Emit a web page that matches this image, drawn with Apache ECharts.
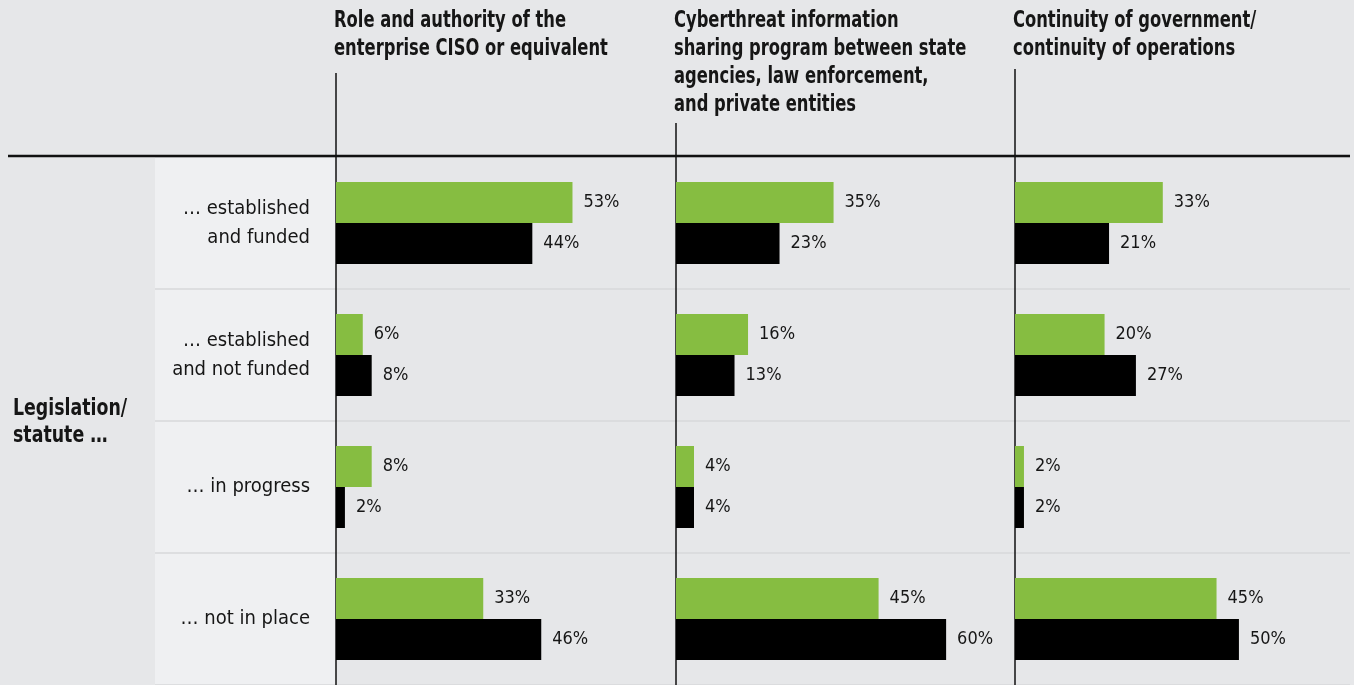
<!DOCTYPE html>
<html>
<head>
<meta charset="utf-8">
<title>Legislation / statute status</title>
<script src="https://cdn.jsdelivr.net/npm/echarts@6/dist/echarts.min.js"></script>
<style>
  html, body { margin: 0; padding: 0; background: #e6e7e9; }
  #chart { width: 1354px; height: 685px; }
</style>
</head>
<body>
<div id="chart"></div>
<script>
// Row categories (shared by all three panels)
const categories = [
  '… established\nand funded',
  '… established\nand not funded',
  '… in progress',
  '… not in place'
];

// Panel headings
const panelTitles = [
  'Role and authority of the\nenterprise CISO or equivalent',
  'Cyberthreat information\nsharing program between state\nagencies, law enforcement,\nand private entities',
  'Continuity of government/\ncontinuity of operations'
];

const rowGroupLabel = 'Legislation/\nstatute …';

// Percent values, green = first bar, black = second bar of each row
const greenRole = [53, 6, 8, 33];
const blackRole = [44, 8, 2, 46];

const greenSharing = [35, 16, 4, 45];
const blackSharing = [23, 13, 4, 60];

const greenContinuity = [33, 20, 2, 45];
const blackContinuity = [21, 27, 2, 50];

const panelData = [
  [greenRole, blackRole],
  [greenSharing, blackSharing],
  [greenContinuity, blackContinuity]
];

// Layout
const FONT = '"DejaVu Sans Condensed", "DejaVu Sans", sans-serif';
const TEXT = '#161616';
const GREEN = '#86bd41';
const GRID_TOP = 157;
const GRID_H = 531;
const panels = [
  { left: 336, width: 340, max: 76.2, lineTop: 73 },
  { left: 676, width: 339, max: 75.3, lineTop: 123 },
  { left: 1015, width: 335, max: 74.8, lineTop: 69 }
];
const SPLIT = { show: true, lineStyle: { color: '#d7d8da', width: 1.5 } };

const chart = echarts.init(document.getElementById('chart'), null, { renderer: 'canvas' });

const grids = [{ left: 155, width: 181, top: GRID_TOP, height: GRID_H, show: true,
                 backgroundColor: '#eff0f2', borderWidth: 0 }];
const xAxes = [{ gridIndex: 0, type: 'value', show: false, min: 0, max: 1 }];
const yAxes = [{ gridIndex: 0, type: 'category', data: categories, inverse: true,
                 axisLine: { show: false }, axisTick: { show: false },
                 axisLabel: { show: false }, splitLine: SPLIT }];
const series = [];
const graphics = [];

panels.forEach((p, i) => {
  const g = i + 1;
  grids.push({ left: p.left, width: p.width, top: GRID_TOP, height: GRID_H });
  xAxes.push({ gridIndex: g, type: 'value', min: 0, max: p.max, show: false });
  yAxes.push({
    gridIndex: g, type: 'category', data: categories, inverse: true,
    axisLine: { show: true, lineStyle: { color: '#111', width: 1.5 } },
    axisTick: { show: false },
    axisLabel: i === 0 ? {
      show: true, margin: 26, fontFamily: FONT, fontSize: 20, lineHeight: 29,
      color: TEXT, align: 'right'
    } : { show: false },
    splitLine: SPLIT
  });
  const [greenVals, blackVals] = panelData[i];
  const label = {
    show: true, position: 'right', distance: 11, formatter: '{c}%',
    fontFamily: FONT, fontSize: 18, color: TEXT
  };
  series.push({
    type: 'bar', name: 'green', xAxisIndex: g, yAxisIndex: g, data: greenVals,
    barWidth: 41, barGap: '0%', itemStyle: { color: GREEN }, label, silent: true
  });
  series.push({
    type: 'bar', name: 'black', xAxisIndex: g, yAxisIndex: g, data: blackVals,
    barWidth: 41, barGap: '0%', itemStyle: { color: '#000' }, label, silent: true
  });
  // panel heading, set in a condensed bold face
  graphics.push({
    type: 'text', x: p.left - 2, y: 7, scaleX: 0.79, z: 10,
    style: { text: panelTitles[i], font: 'bold 23px ' + FONT, fill: TEXT,
             lineHeight: 28, verticalAlign: 'top' }
  });
  // vertical rule continuing the panel axis up into the heading area
  graphics.push({
    type: 'line', z: 10,
    shape: { x1: p.left, y1: p.lineTop, x2: p.left, y2: GRID_TOP },
    style: { stroke: '#111', lineWidth: 1.5 }
  });
});

// heavy rule under the headings
graphics.push({
  type: 'line', z: 20,
  shape: { x1: 8, y1: 156, x2: 1350, y2: 156 },
  style: { stroke: '#111', lineWidth: 2.6 }
});
graphics.push({
  type: 'text', x: 13, y: 396, scaleX: 0.84, z: 10,
  style: { text: rowGroupLabel, font: 'bold 23px ' + FONT, fill: TEXT,
           lineHeight: 27, verticalAlign: 'top' }
});

chart.setOption({
  backgroundColor: '#e6e7e9',
  animation: false,
  grid: grids,
  xAxis: xAxes,
  yAxis: yAxes,
  series: series,
  graphic: graphics
});
</script>
</body>
</html>
